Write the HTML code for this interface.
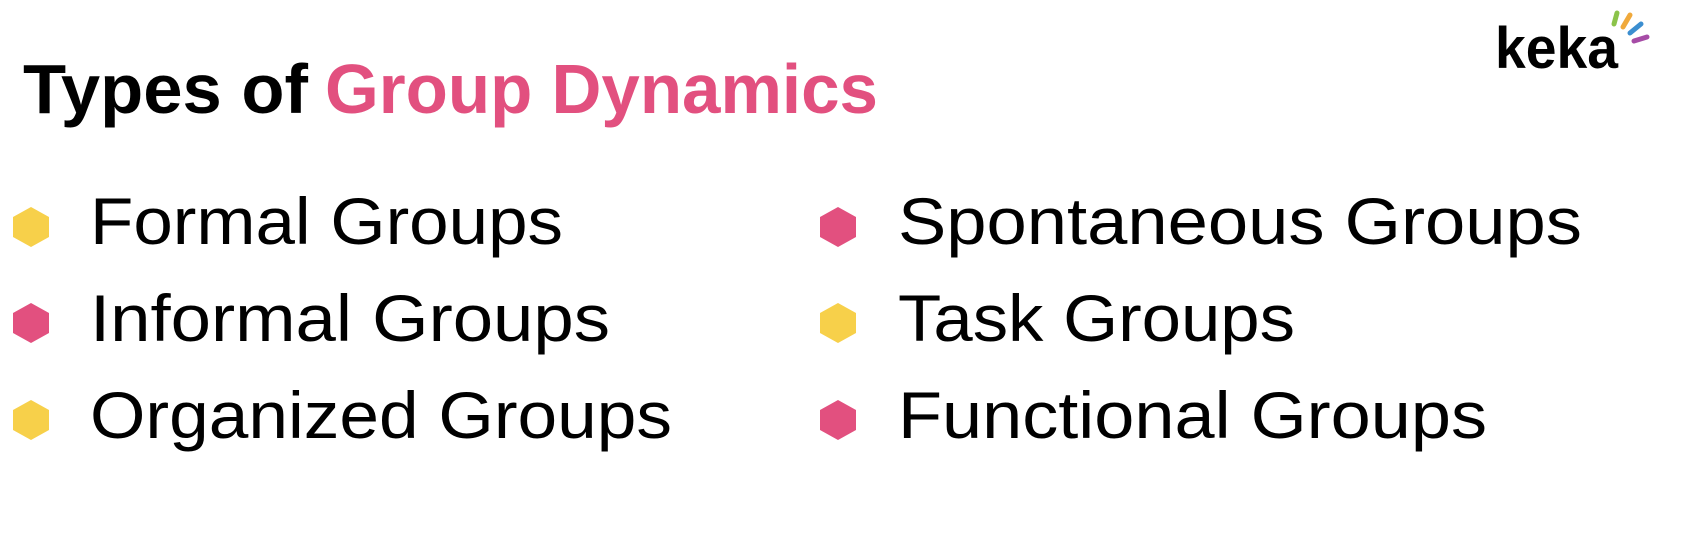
<!DOCTYPE html>
<html><head><meta charset="utf-8"><style>
html,body{margin:0;padding:0;background:#fff;width:1699px;height:556px;overflow:hidden}
svg{display:block}
text{font-family:"Liberation Sans",sans-serif}
</style></head><body>
<svg width="1699" height="556" viewBox="0 0 1699 556">
<rect width="1699" height="556" fill="#fff"/>
<text x="23" y="113" font-size="70" font-weight="bold" fill="#000" textLength="285" lengthAdjust="spacingAndGlyphs">Types of</text>
<text x="325" y="113" font-size="70" font-weight="bold" fill="#E2507F" textLength="553" lengthAdjust="spacingAndGlyphs">Group Dynamics</text>
<text x="1495" y="68" font-size="58" font-weight="bold" fill="#000" textLength="123" lengthAdjust="spacingAndGlyphs">keka</text>
<g stroke-linecap="round" stroke-width="5">
<line x1="1614" y1="24" x2="1617" y2="13" stroke="#8BC34A"/>
<line x1="1623" y1="27" x2="1630" y2="15" stroke="#F0A93B"/>
<line x1="1630" y1="33" x2="1641" y2="24" stroke="#3B8ED0"/>
<line x1="1634" y1="41" x2="1647" y2="37" stroke="#A64CA6"/>
</g>
<g>
<polygon points="31,207 49,217 49,237 31,247 13,237 13,217" fill="#F7D04A"/>
<polygon points="31,303 49,313 49,333 31,343 13,333 13,313" fill="#E2507F"/>
<polygon points="31,400 49,410 49,430 31,440 13,430 13,410" fill="#F7D04A"/>
<polygon points="838,207 856,217 856,237 838,247 820,237 820,217" fill="#E2507F"/>
<polygon points="838,303 856,313 856,333 838,343 820,333 820,313" fill="#F7D04A"/>
<polygon points="838,400 856,410 856,430 838,440 820,430 820,410" fill="#E2507F"/>
</g>
<g font-size="66" fill="#000">
<text x="90" y="244" textLength="473" lengthAdjust="spacingAndGlyphs">Formal Groups</text>
<text x="90" y="341" textLength="520" lengthAdjust="spacingAndGlyphs">Informal Groups</text>
<text x="90" y="438" textLength="582" lengthAdjust="spacingAndGlyphs">Organized Groups</text>
<text x="898" y="244" textLength="684" lengthAdjust="spacingAndGlyphs">Spontaneous Groups</text>
<text x="898" y="341" textLength="397" lengthAdjust="spacingAndGlyphs">Task Groups</text>
<text x="898" y="438" textLength="589" lengthAdjust="spacingAndGlyphs">Functional Groups</text>
</g>
</svg>
</body></html>
